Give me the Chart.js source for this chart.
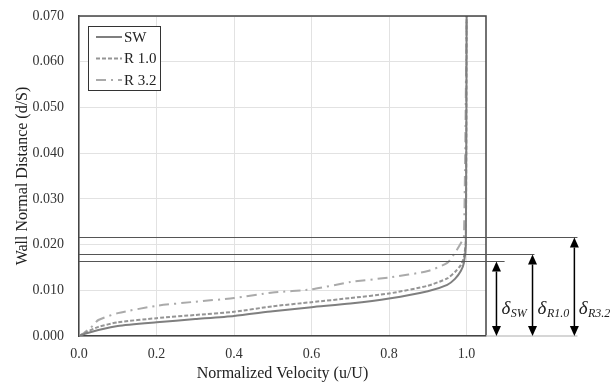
<!DOCTYPE html>
<html lang="en">
<head>
<meta charset="UTF-8">
<title>Velocity profiles</title>
<style>
  body { margin: 0; background: #fff; }
  .chartBox { width: 616px; height: 384px; }
</style>
</head>
<body>
<div class="chartBox">
  <canvas id="myChart" width="616" height="384"></canvas>
</div>

<script src="https://cdn.jsdelivr.net/npm/chart.js"></script>
<script>
// normalized velocity (u/U) and wall normal distance (d/S)
const swU  = [0, 0.02, 0.05, 0.1, 0.2, 0.3, 0.4, 0.5, 0.6, 0.7, 0.8, 0.9, 0.95, 0.97, 0.985, 0.993, 0.998, 1.0];
const swD  = [0, 0.0006, 0.0013, 0.0022, 0.0030, 0.0037, 0.0044, 0.0054, 0.0063, 0.0071, 0.0082, 0.0098, 0.0112, 0.0125, 0.0142, 0.0160, 0.0200, 0.0700];
const r10U = [0, 0.02, 0.05, 0.1, 0.2, 0.3, 0.4, 0.5, 0.6, 0.7, 0.8, 0.9, 0.95, 0.97, 0.985, 0.993, 0.998, 1.0];
const r10D = [0, 0.0009, 0.0020, 0.0030, 0.0039, 0.0046, 0.0053, 0.0065, 0.0074, 0.0083, 0.0093, 0.0110, 0.0126, 0.0140, 0.0155, 0.0172, 0.0210, 0.0700];
const r32U = [0, 0.01, 0.03, 0.05, 0.1, 0.2, 0.3, 0.4, 0.5, 0.6, 0.7, 0.8, 0.9, 0.95, 0.97, 0.985, 0.993, 1.0];
const r32D = [0, 0.0005, 0.0018, 0.0035, 0.0050, 0.0066, 0.0075, 0.0083, 0.0095, 0.0102, 0.0118, 0.0128, 0.0142, 0.0160, 0.0182, 0.0203, 0.0216, 0.0700];

const seriesNames = ['SW', 'R 1.0', 'R 3.2'];
// boundary layer thickness for each case (horizontal marker lines)
const deltas = [0.0163, 0.0179, 0.0217];
const deltaSubs = ['SW', 'R1.0', 'R3.2'];
// where the marker lines end, where the arrows stand, where labels start (in u/U units)
const lineEnds = [1.098, 1.175, 1.286];
const arrowAt = [1.077, 1.170, 1.278];
const labelAt = [1.090, 1.183, 1.289];

const xTicks = [0, 0.2, 0.4, 0.6, 0.8, 1.0];

const toPts = (u, d) => u.map((v, i) => ({x: v, y: d[i]}));

const serif = "'Liberation Serif', 'Times New Roman', serif";

const boxAndMarks = {
  id: 'boxAndMarks',
  afterDraw(chart) {
    const {ctx, chartArea: a, scales: {x, y}} = chart;
    ctx.save();

    // top and right edges of the plot frame
    ctx.strokeStyle = '#444';
    ctx.lineWidth = 1.5;
    ctx.beginPath();
    ctx.moveTo(a.left, a.top);
    ctx.lineTo(a.right, a.top);
    ctx.lineTo(a.right, a.bottom);
    ctx.stroke();

    // baseline extension under the arrows
    ctx.strokeStyle = '#c8c8c8';
    ctx.lineWidth = 1.5;
    ctx.beginPath();
    ctx.moveTo(a.right, y.getPixelForValue(0));
    ctx.lineTo(x.getPixelForValue(Math.max(...lineEnds)), y.getPixelForValue(0));
    ctx.stroke();

    // delta lines, arrows and labels
    deltas.forEach((dv, i) => {
      const py = Math.round(y.getPixelForValue(dv)) + 0.5;
      ctx.strokeStyle = '#555';
      ctx.lineWidth = 1;
      ctx.beginPath();
      ctx.moveTo(a.left, py);
      ctx.lineTo(x.getPixelForValue(lineEnds[i]), py);
      ctx.stroke();

      const ax = x.getPixelForValue(arrowAt[i]);
      const y0 = y.getPixelForValue(0);
      const head = 10, hw = 4.5;
      ctx.strokeStyle = '#000';
      ctx.fillStyle = '#000';
      ctx.lineWidth = 1.5;
      ctx.beginPath();
      ctx.moveTo(ax, py + head);
      ctx.lineTo(ax, y0 - head);
      ctx.stroke();
      ctx.beginPath();
      ctx.moveTo(ax, py);
      ctx.lineTo(ax - hw, py + head);
      ctx.lineTo(ax + hw, py + head);
      ctx.closePath();
      ctx.fill();
      ctx.beginPath();
      ctx.moveTo(ax, y0);
      ctx.lineTo(ax - hw, y0 - head);
      ctx.lineTo(ax + hw, y0 - head);
      ctx.closePath();
      ctx.fill();

      const lx = x.getPixelForValue(labelAt[i]);
      const ly = y.getPixelForValue(0.0048);
      ctx.fillStyle = '#222';
      ctx.textAlign = 'left';
      ctx.textBaseline = 'alphabetic';
      ctx.font = 'italic 19px ' + serif;
      ctx.fillText('δ', lx, ly);
      const w = ctx.measureText('δ').width;
      ctx.font = 'italic 12px ' + serif;
      ctx.fillText(deltaSubs[i], lx + w + 0.5, ly + 3);
    });

    // legend inside the plot
    const bx = a.left + 9, by = a.top + 10, bw = 72, bh = 64;
    ctx.fillStyle = '#fff';
    ctx.fillRect(bx, by, bw, bh);
    ctx.strokeStyle = '#333';
    ctx.lineWidth = 1;
    ctx.strokeRect(bx + 0.5, by + 0.5, bw, bh);
    chart.data.datasets.forEach((ds, i) => {
      const ry = by + 11 + i * 21.5;
      ctx.strokeStyle = ds.borderColor;
      ctx.lineWidth = 2;
      ctx.setLineDash(ds.borderDash || []);
      ctx.beginPath();
      ctx.moveTo(bx + 8, ry);
      ctx.lineTo(bx + 34, ry);
      ctx.stroke();
      ctx.setLineDash([]);
      ctx.fillStyle = '#222';
      ctx.font = '15px ' + serif;
      ctx.textBaseline = 'middle';
      ctx.fillText(ds.label, bx + 36, ry + 1);
    });

    ctx.restore();
  }
};

new Chart(document.getElementById('myChart'), {
  type: 'line',
  data: {
    datasets: [
      {label: seriesNames[0], data: toPts(swU, swD), borderColor: '#7f7f7f', borderWidth: 2, pointRadius: 0, tension: 0.2},
      {label: seriesNames[1], data: toPts(r10U, r10D), borderColor: '#959595', borderWidth: 2, borderDash: [4, 2], pointRadius: 0, tension: 0.2},
      {label: seriesNames[2], data: toPts(r32U, r32D), borderColor: '#aaaaaa', borderWidth: 2, borderDash: [10, 5, 2, 5], pointRadius: 0, tension: 0.2}
    ]
  },
  options: {
    responsive: false,
    animation: false,
    layout: {padding: {left: 0, top: 16, right: 130, bottom: 0}},
    plugins: {legend: {display: false}, tooltip: {enabled: false}},
    scales: {
      x: {
        type: 'linear',
        min: 0,
        max: 1.05,
        afterFit: s => { s.height = 48; s.paddingLeft = 0; s.paddingRight = 0; },
        afterBuildTicks: s => { s.ticks = xTicks.map(v => ({value: v})); },
        ticks: {
          padding: 10,
          maxRotation: 0,
          color: '#333',
          font: {family: serif, size: 14},
          callback: v => v.toFixed(1)
        },
        grid: {color: '#e2e2e2', drawTicks: false},
        border: {color: '#444', width: 1.5},
        title: {display: true, text: 'Normalized Velocity (u/U)', color: '#222', font: {family: serif, size: 16}, padding: {top: 0, bottom: 1}}
      },
      y: {
        min: 0,
        max: 0.07,
        afterFit: s => { s.width = 79; s.paddingTop = 0; s.paddingBottom = 0; },
        ticks: {
          stepSize: 0.01,
          padding: 15,
          color: '#333',
          font: {family: serif, size: 14},
          callback: v => v.toFixed(3)
        },
        grid: {color: '#e2e2e2', drawTicks: false},
        border: {color: '#444', width: 1.5},
        title: {display: true, text: 'Wall Normal Distance (d/S)', color: '#222', font: {family: serif, size: 16}, padding: {top: 13, bottom: 0}}
      }
    }
  },
  plugins: [boxAndMarks]
});
</script>
</body>
</html>
